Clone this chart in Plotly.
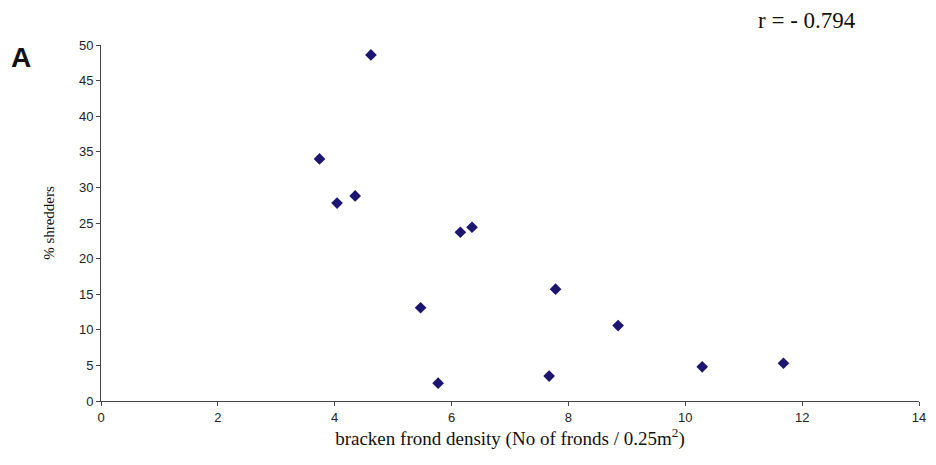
import plotly.graph_objects as go

# Bracken frond density vs. percentage of shredders per sample
frond_density = [4.62, 3.74, 4.04, 4.35, 6.15, 6.35, 5.47, 5.77, 7.78, 7.67, 8.85, 10.29, 11.68]
pct_shredders = [48.6, 34.0, 27.8, 28.8, 23.7, 24.4, 13.1, 2.5, 15.7, 3.5, 10.6, 4.8, 5.3]

x_ticks = [0, 2, 4, 6, 8, 10, 12, 14]
y_ticks = [0, 5, 10, 15, 20, 25, 30, 35, 40, 45, 50]

correlation_label = "r = - 0.794"
panel_label = "A"

fig = go.Figure()
fig.add_trace(go.Scatter(
    x=frond_density,
    y=pct_shredders,
    mode="markers",
    marker=dict(symbol="diamond", size=9, color="#1c1670"),
    showlegend=False,
))

axis_common = dict(
    showgrid=False,
    zeroline=False,
    showline=True,
    linecolor="#444444",
    linewidth=1,
    ticks="outside",
    ticklen=4,
    tickcolor="#444444",
    tickfont=dict(family="Liberation Sans, Arial, sans-serif", size=13, color="#222222"),
)

fig.update_layout(
    width=936,
    height=465,
    margin=dict(l=101, r=10, t=45, b=64),
    paper_bgcolor="white",
    plot_bgcolor="white",
    xaxis=dict(
        range=[0, 14],
        tickvals=x_ticks,
        title=dict(
            text="bracken frond density (No of fronds / 0.25m<sup>2</sup>)",
            font=dict(family="Liberation Serif, Times New Roman, serif", size=19, color="#111111"),
            standoff=8,
        ),
        **axis_common,
    ),
    yaxis=dict(
        range=[0, 50],
        tickvals=y_ticks,
        title=dict(
            text="% shredders",
            font=dict(family="Liberation Serif, Times New Roman, serif", size=15, color="#111111"),
            standoff=20,
        ),
        **axis_common,
    ),
)

fig.add_annotation(
    text=panel_label,
    xref="paper", yref="paper",
    x=-0.098, y=0.965,
    xanchor="center", yanchor="middle",
    showarrow=False,
    font=dict(family="Liberation Sans, Arial, sans-serif", size=28, color="#111111", weight="bold"),
)
fig.add_annotation(
    text=correlation_label,
    xref="paper", yref="paper",
    x=0.863, y=1.07,
    xanchor="center", yanchor="middle",
    showarrow=False,
    font=dict(family="Liberation Serif, Times New Roman, serif", size=23, color="#111111"),
)

fig.write_html("out.html")
